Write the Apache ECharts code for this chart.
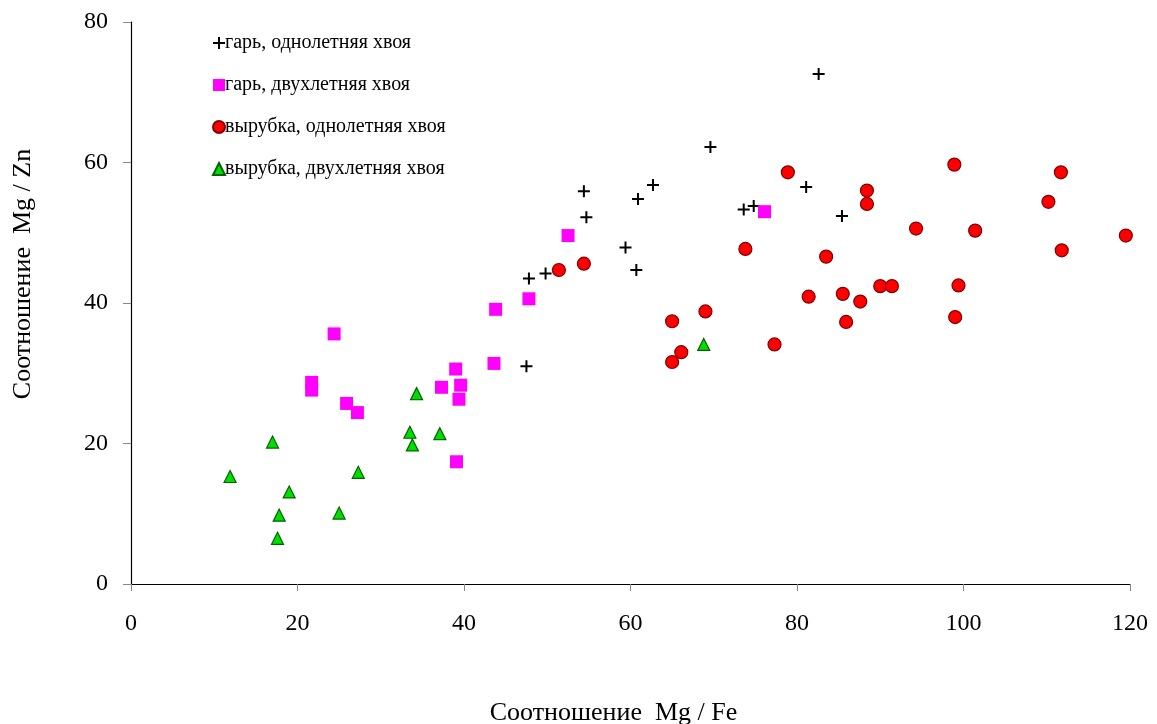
<!DOCTYPE html>
<html>
<head>
<meta charset="utf-8">
<script src="https://cdn.jsdelivr.net/npm/echarts@6/dist/echarts.min.js"></script>
<style>
  html, body { margin: 0; padding: 0; background: #fff; }
  #chart { width: 1157px; height: 724px; }
</style>
</head>
<body>
<div id="chart"></div>
<script>
// Mg/Fe vs Mg/Zn ratios.
const SERIES_NAMES = [
  "гарь, однолетняя хвоя",
  "гарь, двухлетняя хвоя",
  "вырубка, однолетняя хвоя",
  "вырубка, двухлетняя хвоя",
];

// [Mg/Fe, Mg/Zn]
const burnOneYear = [
  [82.6, 72.6], [69.6, 62.2], [62.7, 56.8], [54.4, 55.9], [81.1, 56.5],
  [60.9, 54.8], [73.6, 53.3], [74.8, 53.8], [54.7, 52.2], [85.4, 52.4],
  [59.4, 47.9], [60.7, 44.7], [47.8, 43.5], [49.8, 44.2], [47.5, 31.0],
];
const burnTwoYear = [
  [24.4, 35.6], [21.7, 28.7], [21.7, 27.6], [25.9, 25.7], [27.2, 24.4],
  [39.0, 30.6], [37.3, 28.0], [39.6, 28.3], [39.4, 26.3], [39.1, 17.4],
  [43.6, 31.4], [52.5, 49.6], [47.8, 40.6], [43.8, 39.1], [76.1, 53.0],
];
const cutOneYear = [
  [51.4, 44.7], [54.4, 45.6], [65.0, 37.4], [69.0, 38.8], [66.1, 33.0],
  [65.0, 31.6], [73.8, 47.7], [77.3, 34.1], [78.9, 58.6], [98.9, 59.7],
  [111.7, 58.6], [88.4, 56.0], [88.4, 54.1], [110.2, 54.4], [83.5, 46.6],
  [94.3, 50.6], [101.4, 50.3], [119.5, 49.6], [111.8, 47.5], [81.4, 40.9],
  [85.5, 41.3], [87.6, 40.2], [90.0, 42.4], [91.4, 42.4], [99.4, 42.5],
  [85.9, 37.3], [99.0, 38.0],
];
const cutTwoYear = [
  [34.3, 27.1], [33.5, 21.6], [37.1, 21.4], [33.8, 19.8], [17.0, 20.2],
  [11.9, 15.3], [27.3, 15.9], [19.0, 13.1], [17.8, 9.8], [25.0, 10.1],
  [17.6, 6.5], [68.8, 34.1],
];

const X_NAME = "Соотношение  Mg / Fe";
const Y_NAME = "Соотношение  Mg / Zn";

const FONT = "'Liberation Serif', 'DejaVu Serif', serif";
// plus sign drawn as two filled bars
const CROSS = "path://M0,5H12V7H0Z M5,0H7V12H5Z";

const chart = echarts.init(document.getElementById("chart"), null, { renderer: "canvas" });

const baseSeries = (name, data, symbol, size, fill, border) => ({
  name,
  type: "scatter",
  data,
  symbol,
  symbolSize: size,
  itemStyle: { color: fill, borderColor: border, borderWidth: border ? 1.2 : 0, opacity: 1 },
  emphasis: { disabled: true },
});

chart.setOption({
  animation: false,
  backgroundColor: "#fff",
  textStyle: { fontFamily: FONT },
  grid: { left: 131, top: 22, right: 27, bottom: 140, outerBoundsMode: "none" },
  legend: {
    left: 207,
    top: 28,
    orient: "vertical",
    itemGap: 22,
    itemWidth: 12,
    itemHeight: 12,
    textStyle: { fontFamily: FONT, fontSize: 20, color: "#000", padding: [0, 0, 0, -5] },
    data: SERIES_NAMES,
  },
  xAxis: {
    type: "value",
    min: 0,
    max: 120,
    interval: 20,
    name: X_NAME,
    nameLocation: "middle",
    nameGap: 116,
    nameTextStyle: { fontFamily: FONT, fontSize: 26, color: "#000", padding: [0, 34, 0, 0] },
    axisLine: { show: true, onZero: false, lineStyle: { color: "#000", width: 1.2 } },
    axisTick: { show: true, length: 7, lineStyle: { color: "#888" } },
    axisLabel: { fontFamily: FONT, fontSize: 24, color: "#000", margin: 28 },
    splitLine: { show: false },
  },
  yAxis: {
    type: "value",
    min: 0,
    max: 80,
    interval: 20,
    name: Y_NAME,
    nameLocation: "middle",
    nameGap: 95,
    nameTextStyle: { fontFamily: FONT, fontSize: 26, color: "#000", padding: [0, 0, 0, 58] },
    axisLine: { show: true, onZero: false, lineStyle: { color: "#000", width: 1.2 } },
    axisTick: { show: true, length: 8, lineStyle: { color: "#888" } },
    axisLabel: { fontFamily: FONT, fontSize: 24, color: "#000", margin: 23 },
    splitLine: { show: false },
  },
  series: [
    baseSeries(SERIES_NAMES[0], burnOneYear, CROSS, 12, "#000", null),
    baseSeries(SERIES_NAMES[1], burnTwoYear, "rect", 13, "#FF00FF", null),
    baseSeries(SERIES_NAMES[2], cutOneYear, "circle", 13, "#FF0000", "#800000"),
    baseSeries(SERIES_NAMES[3], cutTwoYear, "triangle", 12, "#00DD00", "#006400"),
  ],
});
</script>
</body>
</html>
